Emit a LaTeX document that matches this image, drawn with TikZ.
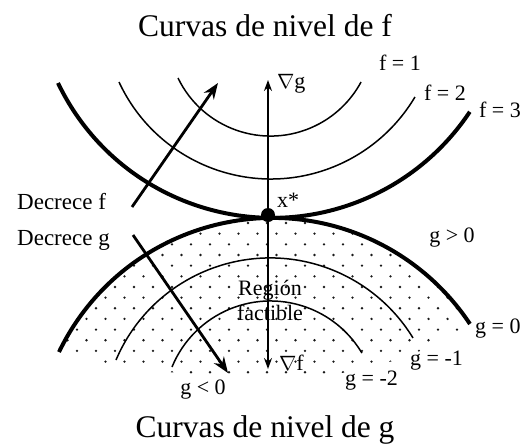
\documentclass[tikz,border=0pt]{standalone}
\usepackage{fontspec}
\setmainfont{Liberation Serif}
\usetikzlibrary{arrows.meta}
\begin{document}
\begin{tikzpicture}[x=1pt,y=-1pt,
  lbl/.style={font=\fontsize{22}{26}\selectfont, inner sep=0pt},
  dlbl/.style={font=\fontsize{23}{27}\selectfont, inner sep=0pt},
  ttl/.style={font=\fontsize{31.5}{36}\selectfont, inner sep=0pt},
  thickarc/.style={line width=4pt},
  thinarc/.style={line width=1.5pt},
  bigarrow/.style={line width=2.8pt, -{Stealth[length=16pt,width=12pt]}},
  gradarrow/.style={line width=1.8pt, -{Stealth[length=11pt,width=8pt]}},
  dotpt/.style={fill=black!90}
]
\useasboundingbox (0,0) rectangle (525,445);

% feasible region dots
\begin{scope}
\clip (59,352) arc[start angle=205.75, end angle=326.44, radius=237]
  .. controls (440,345) and (380,374) .. (300,377)
  .. controls (220,380) and (120,370) .. (59,352);
\foreach \r in {0,...,15} {
  \foreach \c in {0,...,26} {
    \fill[dotpt] ({1 + 19*\c + 9.5*mod(\r,2)}, {223 + 10.66*\r}) circle[radius=1.3];
  }
}
\end{scope}

% level curves of f
\draw[thickarc] (58,83) arc[start angle=154.4, end angle=33.6, radius=237.4];
\draw[thinarc] (119,82) arc[start angle=155.1, end angle=30.7, radius=167.5];
\draw[thinarc] (178,78) arc[start angle=154.2, end angle=28.3, radius=102.8];

% level curves of g
\draw[thickarc] (59,352) arc[start angle=205.75, end angle=326.44, radius=237];
\draw[thinarc] (116,360) arc[start angle=203.0, end angle=328.5, radius=167.5];
\draw[thinarc] (172,367) arc[start angle=202.3, end angle=329.3, radius=106.4];

% optimum point
\node[circle, fill=black, inner sep=0pt, minimum size=14pt] (xs) at (268,215) {};

% gradients
\coordinate (gtip) at (268,80);
\coordinate (ftip) at (268,369);
\draw[gradarrow] (xs.center) -- (gtip);
\draw[gradarrow] (xs.center) -- (ftip);

% decrease arrows
\coordinate (df0) at (132,207);
\coordinate (df1) at (218,83);
\coordinate (dg0) at (133,235);
\coordinate (dg1) at (228,373);
\draw[bigarrow] (df0) -- (df1);
\draw[bigarrow] (dg0) -- (dg1);

% labels
\node[ttl, anchor=base] (tf) at (265,36) {Curvas de nivel de f};
\node[ttl, anchor=base] (tg) at (265,437) {Curvas de nivel de g};

\node[lbl, anchor=base] (f1) at (400,70) {f = 1};
\node[lbl, anchor=base] (f2) at (445,100) {f = 2};
\node[lbl, anchor=base] (f3) at (500,117) {f = 3};

\node[lbl, anchor=base west] (ng) at (277,88) {$\nabla$g};
\node[lbl, anchor=base west] (xl) at (277,207) {x*};
\node[lbl, anchor=base west] (nf) at (279,370) {$\nabla$f};

\node[dlbl, anchor=base west] (dfl) at (17,209) {Decrece f};
\node[dlbl, anchor=base west] (dgl) at (17,245) {Decrece g};

\node[lbl, anchor=base] (gp) at (452,242) {g > 0};
\node[lbl, anchor=base] (reg1) at (270,295) {Región};
\node[lbl, anchor=base] (reg2) at (270,320) {factible};

\node[lbl, anchor=base west] (g0) at (475,333) {g = 0};
\node[lbl, anchor=base west] (gm1) at (410,365) {g = -1};
\node[lbl, anchor=base west] (gm2) at (345,385) {g = -2};
\node[lbl, anchor=base] (gn) at (203,394) {g < 0};
\end{tikzpicture}
\end{document}
